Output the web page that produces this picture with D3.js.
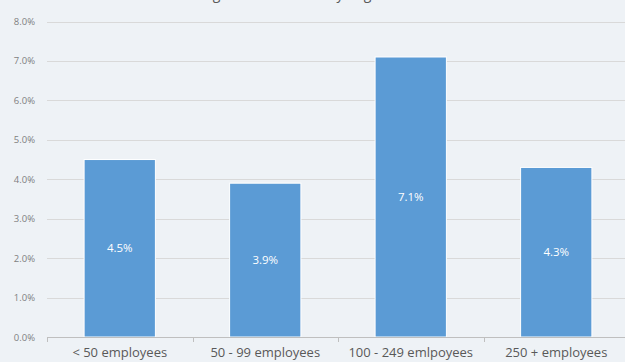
<!DOCTYPE html>
<html><head><meta charset="utf-8">
<script src="https://cdn.jsdelivr.net/npm/d3@7"></script>
<style>html,body{margin:0;padding:0;background:#eef2f6;overflow:hidden}</style>
</head><body>
<svg id="c" width="625" height="362"></svg>
<script>
const categories = ["< 50 employees", "50 - 99 employees", "100 - 249 emlpoyees", "250 + employees"];
const values = [0.045, 0.039, 0.071, 0.043];
const yTicks = [0, 0.01, 0.02, 0.03, 0.04, 0.05, 0.06, 0.07, 0.08];
const title = "Average Turnover Rate by Organization Size";

const svg = d3.select("#c");
const W = 625, H = 362;
svg.append("rect").attr("width", W).attr("height", H).attr("fill", "#eef2f6");

const x = d3.scaleBand().domain(categories).range([47, 629]).paddingInner(0.51).paddingOuter(0.255);
const y = d3.scaleLinear().domain([0, 0.08]).range([337, 21.5]);
const fmt = d3.format(".1%");
const font = "'Open Sans', Lato, sans-serif";

// title (mostly cut off at top, as in the reference)
svg.append("text").attr("x", 318).attr("y", -1).attr("text-anchor", "middle")
  .attr("font-family", font).attr("font-size", 14).attr("fill", "#595959").text(title);

// gridlines
svg.append("g").selectAll("line").data(yTicks.filter(d => d > 0)).join("line")
  .attr("x1", 47).attr("x2", 625).attr("y1", d => Math.round(y(d)) + 0.5).attr("y2", d => Math.round(y(d)) + 0.5)
  .attr("stroke", "#d9d9d9").attr("stroke-width", 1);

// y axis labels
const yAxis = d3.axisLeft(y).tickValues(yTicks).tickFormat(fmt).tickSize(0).tickPadding(0);
const gy = svg.append("g").attr("transform", "translate(35,0)").call(yAxis);
gy.select(".domain").remove();
gy.selectAll("text").attr("font-family", font).attr("font-size", 9.5).attr("fill", "#7f7f7f");

// bars
svg.append("g").selectAll("rect").data(values).join("rect")
  .attr("x", (d, i) => x(categories[i]))
  .attr("y", d => y(d))
  .attr("width", x.bandwidth())
  .attr("height", d => y(0) - y(d))
  .attr("fill", "#5b9bd5").attr("stroke", "#ffffff").attr("stroke-width", 1);

// data labels
svg.append("g").selectAll("text").data(values).join("text")
  .attr("x", (d, i) => x(categories[i]) + x.bandwidth() / 2)
  .attr("y", d => (y(d) + y(0)) / 2 + 4)
  .attr("text-anchor", "middle").attr("font-family", font).attr("font-size", 11.5)
  .attr("fill", "#ffffff").text(fmt);

// x axis
const step = x.step();
const gx = svg.append("g").attr("transform", "translate(0,337)");
gx.append("line").attr("x1", 47).attr("x2", 625).attr("y1", 0.5).attr("y2", 0.5).attr("stroke", "#bfbfbf");
const bounds = d3.range(categories.length).map(i => 47 + i * step);
gx.selectAll(".tk").data(bounds).join("line").attr("class", "tk")
  .attr("x1", d => Math.round(d) + 0.5).attr("x2", d => Math.round(d) + 0.5)
  .attr("y1", 0).attr("y2", 5).attr("stroke", "#bfbfbf");
const xAxis = d3.axisBottom(x).tickSize(0).tickPadding(0);
const gxa = svg.append("g").attr("transform", "translate(0,348)").call(xAxis);
gxa.select(".domain").remove();
gxa.selectAll("text").attr("font-family", font).attr("font-size", 13).attr("fill", "#595959").attr("dy", "0.71em");
</script>
</body></html>
